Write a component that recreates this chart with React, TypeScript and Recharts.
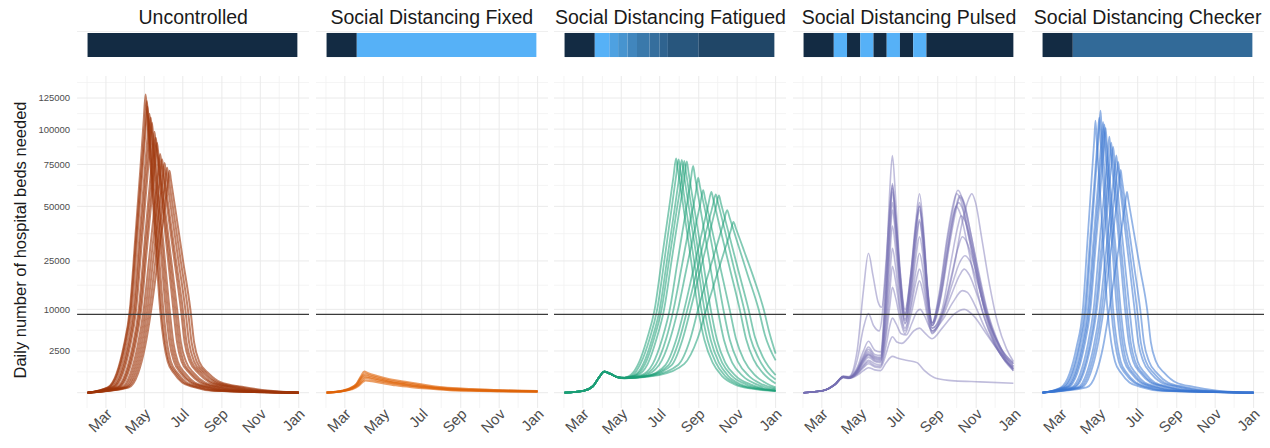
import React from "react";
import { LineChart, Line, XAxis, YAxis, CartesianGrid, ReferenceLine, ReferenceArea } from "recharts";

type Run = [number, number][];
type Step = { from: number; to: number; level: number };

// days counted from 1 Feb 2020
const monthTickDays = [29, 90, 151, 213, 274, 335];
const monthTickLabels = ["Mar", "May", "Jul", "Sep", "Nov", "Jan"];
const minorMonthDays = [-1, 60, 121, 182, 243, 304];
const bedTicks = [2500, 10000, 25000, 50000, 75000, 100000, 125000];
const bedGridMajor = [0, 2500, 10000, 25000, 50000, 75000, 100000, 125000];
const bedGridMinor = [625, 5625, 16650, 36430, 61870, 87040, 112160, 138600];
const capacityBeds = 8850;

const panelTitles = [
  "Uncontrolled",
  "Social Distancing Fixed",
  "Social Distancing Fatigued",
  "Social Distancing Pulsed",
  "Social Distancing Checker",
];

// distancing level over time, 0 = none, 1 = full
const uncontrolledPolicy: Step[] = [{ from: 0, to: 333, level: 0 }];
const fixedPolicy: Step[] = [
  { from: 0, to: 48, level: 0 },
  { from: 48, to: 333, level: 1 },
];
const fatiguedPolicy: Step[] = [
  { from: 0, to: 48, level: 0 },
  { from: 48, to: 71, level: 1 },
  { from: 71, to: 85, level: 0.88 },
  { from: 85, to: 100, level: 0.78 },
  { from: 100, to: 115, level: 0.68 },
  { from: 115, to: 135, level: 0.58 },
  { from: 135, to: 151, level: 0.5 },
  { from: 151, to: 164, level: 0.42 },
  { from: 164, to: 213, level: 0.32 },
  { from: 213, to: 333, level: 0.2 },
];
const pulsedPolicy: Step[] = [
  { from: 0, to: 48, level: 0 },
  { from: 48, to: 69, level: 1 },
  { from: 69, to: 90, level: 0 },
  { from: 90, to: 111, level: 1 },
  { from: 111, to: 132, level: 0 },
  { from: 132, to: 153, level: 1 },
  { from: 153, to: 174, level: 0 },
  { from: 174, to: 195, level: 1 },
  { from: 195, to: 333, level: 0 },
];
const checkerPolicy: Step[] = [
  { from: 0, to: 48, level: 0 },
  { from: 48, to: 333, level: 0.47 },
];

const uncontrolledRuns: Run[] = [
  [[0,0],[32,40],[46,540],[57,3000],[67,10000],[76,36000],[84,74000],[89,107000],[92,128000],[94,115000],[99,78400],[107,36100],[115,10000],[121,3600],[127,1400],[137,540],[150,150],[167,50],[200,5],[335,0]],
  [[0,0],[33,40],[47,540],[58,3000],[68,10000],[77,34600],[85,69200],[91,103000],[94,122500],[96,107600],[102,68600],[109,34600],[117,10000],[123,3600],[129,1400],[140,540],[153,150],[171,50],[205,5],[335,0]],
  [[0,0],[35,40],[49,540],[60,3000],[70,10000],[79,35300],[87,70800],[92,99200],[95,118000],[97,105000],[103,70800],[111,35300],[120,10000],[126,3600],[132,1400],[143,540],[157,150],[176,50],[210,5],[335,0]],
  [[0,0],[38,40],[52,540],[63,3000],[73,10000],[82,34200],[90,67600],[95,94200],[98,112000],[100,100500],[106,69200],[114,36100],[124,10000],[130,3600],[137,1400],[148,540],[163,150],[183,50],[220,5],[335,0]],
  [[0,0],[40,40],[54,540],[65,3000],[75,10000],[84,33500],[92,65500],[97,91200],[100,109000],[102,98000],[108,68600],[117,34200],[127,10000],[133,3600],[140,1400],[151,540],[166,150],[187,50],[225,5],[335,0]],
  [[0,0],[42,40],[56,540],[67,3000],[77,10000],[86,32800],[94,63500],[99,88200],[102,105000],[104,94900],[111,63500],[120,32400],[130,10000],[136,3600],[143,1400],[155,540],[170,150],[192,50],[230,5],[335,0]],
  [[0,0],[46,40],[60,540],[71,3000],[81,10000],[90,31300],[98,60000],[103,82400],[106,98000],[108,89400],[116,58600],[126,29200],[136,10000],[142,3600],[149,1400],[162,540],[178,150],[200,50],[240,5],[335,0]],
  [[0,0],[48,40],[62,540],[73,3000],[83,10000],[92,30300],[100,57600],[105,79000],[108,93600],[110,85800],[118,57600],[128,29900],[139,10000],[145,3600],[152,1400],[165,540],[182,150],[205,50],[245,5],[335,0]],
  [[0,0],[50,40],[64,540],[75,3000],[85,10000],[94,29600],[102,55700],[107,76200],[110,90000],[112,82900],[120,56600],[131,28600],[142,10000],[148,3600],[156,1400],[169,540],[186,150],[210,50],[250,5],[335,0]],
  [[0,0],[54,40],[68,540],[79,3000],[89,10000],[98,26900],[107,52400],[112,70200],[115,82000],[117,75600],[125,52900],[136,28200],[148,10000],[154,3600],[162,1400],[176,540],[194,150],[220,50],[260,5],[335,0]],
  [[0,0],[57,40],[71,540],[82,3000],[92,10000],[101,26200],[110,50200],[115,67100],[118,78400],[120,72400],[128,50600],[139,27200],[151,10000],[157,3600],[165,1400],[180,540],[198,150],[225,50],[265,5],[335,0]],
  [[0,0],[60,40],[74,540],[85,3000],[95,10000],[104,25300],[113,47100],[119,65500],[122,76000],[124,70200],[132,49700],[143,26900],[155,10000],[161,3600],[169,1400],[184,540],[203,150],[230,50],[270,5],[335,0]],
  [[0,0],[62,40],[77,540],[88,3000],[98,10000],[108,25900],[117,46700],[123,63500],[126,72900],[128,67600],[136,48000],[147,26200],[159,10000],[165,3600],[173,1400],[188,540],[207,150],[238,50],[280,5],[335,0]],
  [[0,0],[65,40],[80,540],[91,3000],[101,10000],[111,24600],[121,46200],[127,62000],[130,71000],[132,65500],[140,46700],[151,25600],[163,10000],[169,3600],[177,1400],[192,540],[212,150],[245,50],[290,5],[335,0]],
];

const fixedRuns: Run[] = [
  [[0,0],[25,5],[38,30],[48,120],[55,400],[60,640],[65,560],[80,400],[100,260],[125,170],[150,100],[185,40],[230,18],[280,8],[335,4]],
  [[0,0],[25,5],[38,28],[48,110],[55,330],[61,500],[67,440],[80,330],[100,210],[125,130],[150,75],[185,30],[230,13],[280,6],[335,3]],
  [[0,0],[26,4],[39,25],[49,95],[56,290],[61,400],[68,350],[82,260],[100,170],[125,100],[150,55],[185,22],[230,10],[280,5],[335,2]],
  [[0,0],[26,4],[40,22],[50,80],[57,220],[62,320],[70,280],[85,200],[105,130],[130,75],[155,40],[190,16],[235,7],[280,3],[335,2]],
  [[0,0],[27,4],[40,18],[50,60],[57,160],[62,220],[72,190],[90,130],[110,80],[135,45],[160,25],[195,10],[240,5],[335,1]],
];

const fatiguedRuns: Run[] = [
  [[0,0],[30,5],[45,60],[55,350],[63,640],[72,520],[85,340],[95,330],[105,450],[118,1300],[131,4200],[143,10000],[155,26800],[166,49300],[173,67600],[177,79000],[180,71300],[188,51100],[200,26600],[212,10000],[222,4000],[235,1300],[250,400],[270,100],[300,20],[335,4]],
  [[0,0],[30,5],[45,60],[55,350],[63,640],[72,520],[85,340],[95,325],[108,440],[121,1250],[135,4200],[147,10000],[159,26200],[170,49000],[177,67600],[181,78400],[184,70600],[192,50600],[205,26000],[217,10000],[227,4000],[240,1300],[255,400],[275,100],[305,20],[335,5]],
  [[0,0],[30,5],[45,60],[55,350],[63,640],[72,520],[85,340],[95,320],[110,420],[125,1200],[139,4200],[151,10000],[163,25900],[175,49300],[182,67100],[186,78000],[189,69700],[198,48000],[210,25600],[222,10000],[232,4000],[245,1300],[260,400],[280,100],[310,20],[335,5]],
  [[0,0],[30,5],[45,60],[55,350],[63,640],[72,520],[85,340],[95,320],[112,425],[128,1200],[142,4200],[154,10000],[166,25300],[178,48000],[186,66000],[190,77300],[193,69200],[202,48400],[214,25600],[227,10000],[237,4000],[250,1300],[266,400],[288,100],[315,20],[335,6]],
  [[0,0],[30,5],[45,60],[55,350],[63,640],[72,520],[85,340],[95,320],[115,430],[132,1200],[146,4200],[158,10000],[170,25300],[182,47500],[190,66000],[194,77000],[197,69200],[206,48800],[219,25900],[232,10000],[242,4000],[255,1300],[272,400],[295,100],[320,20],[335,8]],
  [[0,0],[30,5],[45,60],[55,350],[63,640],[72,520],[85,340],[95,320],[120,420],[140,1200],[155,4200],[167,10000],[179,24300],[191,44500],[200,64000],[204,74000],[207,67100],[216,48000],[230,24600],[243,10000],[253,4000],[266,1300],[283,400],[305,100],[335,15]],
  [[0,0],[30,5],[45,60],[55,350],[63,640],[72,520],[85,340],[95,315],[122,410],[145,1150],[161,4100],[173,10000],[186,23000],[199,41600],[208,56900],[212,66600],[215,61000],[225,44900],[239,24300],[252,10000],[262,4100],[275,1400],[292,420],[312,110],[335,25]],
  [[0,0],[30,5],[45,60],[55,350],[63,640],[72,520],[85,340],[95,310],[125,400],[150,1100],[167,4000],[180,10000],[193,21600],[206,37600],[215,50600],[220,59000],[223,54300],[233,39600],[247,22800],[262,10000],[272,4200],[285,1500],[302,450],[320,130],[335,40]],
  [[0,0],[30,5],[45,60],[55,350],[63,640],[72,520],[85,340],[95,310],[130,400],[160,1100],[177,4000],[190,10000],[204,21300],[218,36900],[228,50600],[233,58000],[236,53800],[247,38800],[262,22500],[278,10000],[288,4200],[300,1600],[315,550],[335,120]],
  [[0,0],[30,5],[45,60],[55,350],[63,640],[72,520],[85,340],[95,310],[132,410],[165,1100],[182,4000],[195,10000],[210,21300],[224,36600],[235,50000],[240,56600],[243,52600],[254,38400],[269,22200],[285,10000],[295,4300],[308,1700],[322,600],[335,250]],
  [[0,0],[30,5],[45,60],[55,350],[63,640],[72,520],[85,340],[95,310],[135,420],[170,1100],[187,4000],[200,10000],[215,21300],[229,35300],[240,49300],[245,56000],[248,52000],[259,38400],[275,22200],[292,10000],[302,4500],[315,1800],[335,450]],
  [[0,0],[30,5],[45,60],[55,350],[63,640],[72,520],[85,340],[95,300],[140,420],[180,1100],[199,4000],[212,10000],[228,20200],[243,32400],[253,42400],[258,48000],[262,44100],[274,32800],[290,20400],[308,10000],[318,4800],[335,1500]],
  [[0,0],[30,5],[45,60],[55,350],[63,640],[72,520],[85,340],[95,300],[150,450],[190,1200],[211,4200],[225,10000],[240,18800],[254,29200],[264,38000],[268,42000],[272,38800],[285,28900],[301,18500],[316,10000],[325,5200],[335,2200]],
];

const pulsedRuns: Run[] = [
  [[0,0],[30,5],[50,100],[63,380],[72,340],[85,900],[95,2500],[103,3800],[113,2600],[122,2400],[131,20000],[137,60000],[141,81000],[146,55000],[153,22000],[161,9000],[170,20000],[178,42000],[184,57000],[190,40000],[197,16000],[204,7000],[215,14000],[228,35000],[238,52000],[245,59000],[252,54000],[262,38000],[275,22000],[290,9000],[305,3800],[320,1600],[333,700]],
  [[0,0],[30,5],[50,100],[63,370],[72,330],[85,800],[95,2000],[103,3000],[113,2100],[122,2000],[131,16000],[137,45000],[141,63000],[146,45000],[153,20000],[161,8500],[170,18000],[178,38000],[184,52000],[190,37000],[197,15000],[204,7000],[215,13000],[228,33000],[238,50000],[243,57000],[250,53000],[260,38000],[272,23000],[287,10000],[302,4200],[318,1800],[333,900]],
  [[0,0],[30,5],[50,100],[63,365],[72,325],[85,750],[95,1800],[103,2700],[113,1900],[122,1800],[131,14000],[137,38000],[141,52000],[146,38000],[153,17000],[161,7800],[170,16000],[178,33000],[184,43000],[190,31000],[197,13000],[204,6500],[215,12500],[228,30000],[237,45000],[242,50000],[249,46000],[259,33000],[271,19000],[286,8500],[302,3600],[318,1600],[333,800]],
  [[0,0],[30,5],[50,100],[63,360],[72,320],[85,700],[95,1700],[103,2400],[113,1800],[122,1700],[131,13000],[137,40000],[141,58000],[146,42000],[153,18000],[161,7500],[170,16000],[178,35000],[184,48000],[190,34000],[197,14000],[204,6500],[218,13000],[232,32000],[242,48000],[248,55000],[255,51000],[265,37000],[278,21000],[292,9500],[308,3900],[322,1700],[333,1000]],
  [[0,0],[30,5],[50,100],[63,360],[72,320],[85,650],[95,1500],[103,2100],[113,1600],[122,1500],[131,10000],[137,32000],[141,48000],[146,36000],[153,16000],[161,7000],[170,14000],[178,30000],[184,42000],[190,30000],[197,12500],[204,6000],[220,9000],[238,22000],[252,42000],[262,54000],[267,57000],[273,52000],[283,34000],[295,17000],[308,7000],[322,2800],[333,1400]],
  [[0,0],[30,5],[50,100],[63,360],[72,320],[85,700],[95,1600],[103,2200],[113,1700],[122,1600],[131,9000],[137,27000],[141,40000],[146,30000],[153,14000],[161,6800],[170,13000],[178,26000],[184,35000],[190,26000],[197,11500],[204,6000],[220,10000],[235,26000],[245,40000],[250,45000],[257,42000],[268,30000],[281,16000],[295,7200],[312,3000],[333,1300]],
  [[0,0],[30,5],[50,100],[63,350],[72,310],[85,600],[95,1300],[103,1800],[113,1400],[122,1300],[131,7000],[137,20000],[141,30000],[146,23000],[153,11000],[161,6000],[170,11000],[178,21000],[184,28000],[190,21000],[197,10000],[204,5500],[220,9000],[235,20000],[245,30000],[252,35000],[260,32000],[270,24000],[283,13000],[298,6000],[315,2600],[333,1200]],
  [[0,0],[30,5],[50,100],[63,355],[72,315],[85,620],[95,1400],[103,2000],[113,1500],[122,1400],[131,5500],[137,15000],[141,23000],[146,18000],[153,9500],[161,5500],[170,10000],[178,17500],[184,22000],[190,17000],[197,9000],[204,5200],[220,8500],[236,17000],[248,24500],[256,27000],[264,25000],[275,18000],[289,9500],[304,4300],[320,1900],[333,1000]],
  [[0,0],[30,5],[50,100],[63,350],[72,310],[85,550],[95,1100],[103,1500],[113,1200],[122,1100],[131,4500],[137,11000],[141,16000],[146,13000],[153,8000],[161,5000],[170,8500],[178,14000],[184,18000],[190,14000],[197,8000],[204,5000],[220,8000],[235,14000],[248,20000],[255,22000],[263,20000],[275,14000],[290,7000],[305,3200],[320,1500],[333,800]],
  [[0,0],[30,5],[50,100],[63,345],[72,305],[85,520],[95,1000],[103,1350],[113,1050],[122,1000],[131,3200],[137,6500],[141,8000],[147,6800],[155,5000],[163,4800],[172,7000],[180,9500],[185,10000],[192,8500],[204,5500],[220,7500],[238,12000],[252,15000],[260,14500],[272,11000],[288,6000],[305,3000],[320,1500],[333,900]],
  [[0,0],[30,5],[50,100],[63,340],[72,300],[85,500],[95,900],[103,1200],[113,950],[122,900],[131,2200],[137,3800],[141,4500],[148,3700],[156,3500],[165,4200],[175,5500],[184,6000],[192,5200],[204,4200],[220,6000],[240,9000],[255,10000],[270,8500],[290,5000],[310,2500],[333,1200]],
  [[0,0],[30,5],[50,90],[63,320],[72,290],[85,430],[95,700],[103,900],[113,750],[122,700],[131,1300],[141,1900],[150,1700],[165,1500],[180,1300],[192,700],[210,300],[240,200],[280,170],[333,130]],
  [[0,0],[30,5],[50,110],[63,400],[72,380],[85,2500],[95,15000],[103,28000],[110,20000],[118,12000],[124,10500],[131,25000],[137,50000],[141,62000],[146,46000],[153,22000],[161,10000],[170,20000],[178,40000],[184,50000],[190,35000],[197,15000],[204,6500],[215,11000],[228,28000],[238,45000],[246,52000],[253,48000],[263,34000],[276,19000],[290,8000],[305,3300],[320,1400],[333,700]],
  [[0,0],[30,5],[50,100],[63,380],[72,350],[85,1500],[95,6000],[103,9000],[111,6500],[120,5500],[131,22000],[137,48000],[141,60000],[146,44000],[153,20000],[161,9000],[170,19000],[178,38000],[184,50000],[190,36000],[197,15000],[204,7000],[218,14000],[232,34000],[242,50000],[248,56000],[255,52000],[265,37000],[278,20000],[292,9000],[308,3600],[322,1500],[333,800]],
];

const checkerRuns: Run[] = [
  [[0,0],[29,40],[43,540],[54,3000],[64,10000],[71,32000],[78,66600],[82,91800],[84,106500],[86,91200],[91,59000],[97,29200],[103,10000],[109,3600],[115,1400],[125,540],[138,150],[155,50],[190,5],[335,0]],
  [[0,0],[32,40],[46,540],[57,3000],[67,10000],[75,32400],[83,67600],[87,90000],[90,109000],[92,93600],[97,60000],[103,29900],[109,10000],[115,3600],[121,1400],[131,540],[145,150],[162,50],[195,5],[335,0]],
  [[0,0],[34,40],[48,540],[59,3000],[69,10000],[77,33500],[85,70800],[89,94200],[92,114500],[94,98600],[100,59000],[106,29200],[112,10000],[118,3600],[124,1400],[134,540],[148,150],[165,50],[200,5],[335,0]],
  [[0,0],[37,40],[51,540],[62,3000],[72,10000],[80,30600],[88,62500],[93,88200],[96,105600],[98,93000],[104,59000],[111,29200],[118,10000],[124,3600],[130,1400],[141,540],[155,150],[173,50],[210,5],[335,0]],
  [[0,0],[39,40],[53,540],[64,3000],[74,10000],[82,30300],[90,61500],[95,86400],[98,103700],[100,91800],[106,60000],[113,31300],[121,10000],[127,3600],[133,1400],[144,540],[158,150],[177,50],[215,5],[335,0]],
  [[0,0],[41,40],[55,540],[66,3000],[76,10000],[84,29900],[92,60000],[97,84700],[100,101000],[102,90000],[108,60000],[116,29900],[124,10000],[130,3600],[137,1400],[148,540],[162,150],[182,50],[220,5],[335,0]],
  [[0,0],[46,40],[60,540],[71,3000],[81,10000],[90,30600],[98,58100],[103,79500],[106,94400],[108,84100],[114,58100],[122,30600],[131,10000],[137,3600],[144,1400],[156,540],[171,150],[192,50],[230,5],[335,0]],
  [[0,0],[49,40],[63,540],[74,3000],[84,10000],[93,29600],[101,55700],[106,76200],[109,90000],[111,80700],[117,55700],[125,29600],[134,10000],[140,3600],[147,1400],[159,540],[174,150],[196,50],[235,5],[335,0]],
  [[0,0],[51,40],[65,540],[76,3000],[86,10000],[95,28200],[104,55200],[109,74000],[112,87000],[114,78400],[121,52000],[129,28200],[138,10000],[144,3600],[151,1400],[163,540],[178,150],[200,50],[240,5],[335,0]],
  [[0,0],[56,40],[70,540],[81,3000],[91,10000],[100,26900],[109,52000],[114,69700],[117,81000],[119,74000],[127,48800],[136,26900],[146,10000],[152,3600],[160,1400],[172,540],[188,150],[212,50],[250,5],[335,0]],
  [[0,0],[59,40],[73,540],[84,3000],[94,10000],[103,25900],[112,49300],[117,65500],[120,76700],[122,70200],[130,47500],[140,25300],[150,10000],[156,3600],[164,1400],[177,540],[193,150],[218,50],[258,5],[335,0]],
  [[0,0],[62,40],[76,540],[87,3000],[97,10000],[106,24300],[115,44500],[121,61500],[124,71400],[126,65500],[134,45400],[144,25300],[155,10000],[161,3600],[169,1400],[182,540],[199,150],[225,50],[265,5],[335,0]],
  [[0,0],[70,40],[85,540],[96,3000],[106,10000],[116,22500],[126,40000],[131,51100],[134,58000],[136,53800],[145,36900],[155,21900],[166,10000],[172,3600],[180,1400],[194,540],[212,150],[240,50],[280,5],[335,0]],
];

const panels = [
  { runs: uncontrolledRuns, policy: uncontrolledPolicy, color: "#9E3509", opacity: 0.62, width: 2 },
  { runs: fixedRuns, policy: fixedPolicy, color: "#DE6207", opacity: 0.62, width: 2.2 },
  { runs: fatiguedRuns, policy: fatiguedPolicy, color: "#1B9E77", opacity: 0.55, width: 1.8 },
  { runs: pulsedRuns, policy: pulsedPolicy, color: "#7570B3", opacity: 0.46, width: 1.6 },
  { runs: checkerRuns, policy: checkerPolicy, color: "#3A76D2", opacity: 0.55, width: 1.8 },
];

const PLOT_X0 = 77.1;
const PLOT_STEP = 238.6;
const PLOT_W = 232.2;
const DAY_DOMAIN: [number, number] = [-16.75, 351.75];
const BED_DOMAIN: [number, number] = [-337, 144400];
const FONT = "'Liberation Sans', Arial, sans-serif";

// ggplot-like gradient from dark navy (0) to light blue (1)
function levelColor(t: number) {
  const a = [19, 43, 67];
  const b = [86, 177, 247];
  const c = a.map((v, i) => Math.round(v + (b[i] - v) * t));
  return `rgb(${c[0]},${c[1]},${c[2]})`;
}

function MonthTick(props: any) {
  const { x, y, payload } = props;
  const idx = monthTickDays.indexOf(payload.value);
  const tx = x + 7;
  const ty = y + 7;
  return (
    <text x={tx} y={ty} transform={`rotate(-45 ${tx} ${ty})`} textAnchor="end" fontSize={15} fill="#4D4D4D" fontFamily={FONT}>
      {monthTickLabels[idx]}
    </text>
  );
}

function Strip({ index, policy }: { index: number; policy: Step[] }) {
  const left = PLOT_X0 + PLOT_STEP * index;
  return (
    <div style={{ position: "absolute", left, top: 31 }}>
      <LineChart width={PLOT_W} height={28} margin={{ top: 0, right: 0, bottom: 0, left: 0 }}>
        <CartesianGrid
          vertical={false}
          horizontalValues={[0.02, 0.14, 0.26, 0.38, 0.5, 0.62, 0.74, 0.86, 0.98]}
          stroke="#EFEFEF"
        />
        <XAxis type="number" dataKey="day" domain={DAY_DOMAIN} hide allowDataOverflow />
        <YAxis type="number" domain={[0, 1]} hide allowDataOverflow />
        {policy.map((s, i) => (
          <ReferenceArea
            key={i}
            x1={s.from}
            x2={s.to}
            y1={0.07}
            y2={0.93}
            fill={levelColor(s.level)}
            fillOpacity={1}
            stroke="none"
          />
        ))}
      </LineChart>
    </div>
  );
}

function Panel({ index }: { index: number }) {
  const { runs, color, opacity, width } = panels[index];
  const plotLeft = PLOT_X0 + PLOT_STEP * index;
  const axisW = index === 0 ? plotLeft : 0;
  return (
    <div style={{ position: "absolute", left: plotLeft - axisW, top: 70 }}>
      <LineChart width={PLOT_W + axisW} height={378} margin={{ top: 6, right: 0, bottom: 0, left: 0 }}>
        <CartesianGrid horizontalValues={bedGridMinor} verticalValues={minorMonthDays} stroke="#F1F1F1" strokeWidth={0.8} />
        <CartesianGrid horizontalValues={bedGridMajor} verticalValues={monthTickDays} stroke="#EAEAEA" strokeWidth={1} />
        <XAxis
          type="number"
          dataKey="day"
          domain={DAY_DOMAIN}
          ticks={monthTickDays}
          allowDataOverflow
          axisLine={false}
          tickLine={false}
          tickSize={0}
          tickMargin={0}
          height={40}
          interval={0}
          tick={(p: any) => <MonthTick {...p} />}
        />
        <YAxis
          type="number"
          scale="sqrt"
          domain={BED_DOMAIN}
          ticks={bedTicks}
          allowDataOverflow
          hide={index !== 0}
          width={axisW}
          axisLine={false}
          tickLine={false}
          tickSize={0}
          tickMargin={7}
          interval={0}
          tick={{ fontSize: 9.5, fill: "#4D4D4D", fontFamily: FONT }}
        />
        {runs.map((run, i) => (
          <Line
            key={i}
            data={run.map(([day, beds]) => ({ day, beds }))}
            dataKey="beds"
            type="monotone"
            stroke={color}
            strokeOpacity={opacity}
            strokeWidth={width}
            dot={false}
            activeDot={false}
            isAnimationActive={false}
          />
        ))}
        <ReferenceLine y={capacityBeds} stroke="#3A3A3A" strokeWidth={1.2} />
      </LineChart>
    </div>
  );
}

export default function App() {
  return (
    <div style={{ position: "absolute", left: 0, top: 0, width: 1270, height: 448, background: "#FFFFFF", fontFamily: FONT, overflow: "hidden" }}>
      <svg width={1270} height={448} style={{ position: "absolute", left: 0, top: 0 }}>
        {panelTitles.map((t, i) => (
          <text key={t} x={PLOT_X0 + PLOT_STEP * i + PLOT_W / 2} y={24} textAnchor="middle" fontSize={19.5} fill="#1A1A1A" fontFamily={FONT}>
            {t}
          </text>
        ))}
        <text x={26} y={240} transform="rotate(-90 26 240)" textAnchor="middle" fontSize={16.5} fill="#1A1A1A" fontFamily={FONT}>
          Daily number of hospital beds needed
        </text>
      </svg>
      {panels.map((p, i) => (
        <Strip key={"s" + i} index={i} policy={p.policy} />
      ))}
      {panels.map((p, i) => (
        <Panel key={"p" + i} index={i} />
      ))}
    </div>
  );
}
